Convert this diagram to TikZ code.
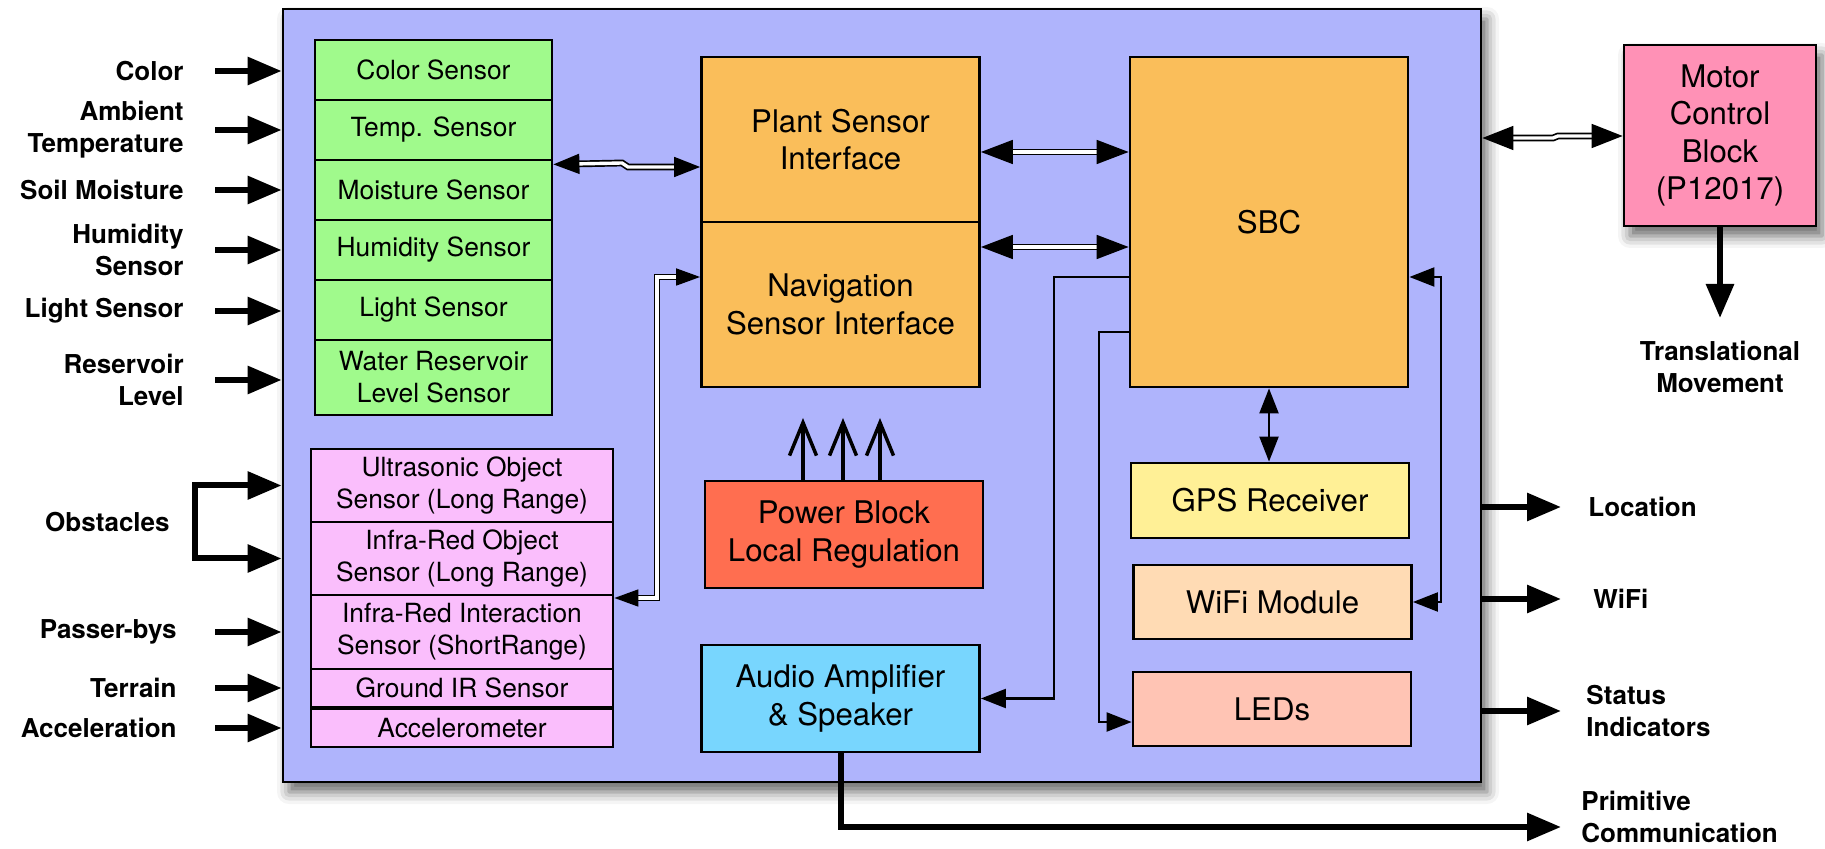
\documentclass[tikz,border=0pt]{standalone}
\usepackage{fontspec}
\setmainfont{TeX Gyre Heros}
\usetikzlibrary{arrows.meta,shadows.blur}

\definecolor{boardfill}{RGB}{175,180,252}
\definecolor{envfill}{RGB}{160,250,140}
\definecolor{navfill}{RGB}{250,190,252}
\definecolor{ifacefill}{RGB}{250,190,90}
\definecolor{powerfill}{RGB}{255,110,80}
\definecolor{audiofill}{RGB}{120,214,254}
\definecolor{gpsfill}{RGB}{255,240,150}
\definecolor{wififill}{RGB}{255,219,180}
\definecolor{ledfill}{RGB}{255,196,180}
\definecolor{motorfill}{RGB}{255,145,182}

\begin{document}
\begin{tikzpicture}[x=0.5pt,y=-0.5pt,
    box/.style={draw,line width=1.4pt,align=center,inner sep=1pt},
    sensor/.style={box,font=\fontsize{13.2}{16}\selectfont},
    envbox/.style={sensor,fill=envfill,minimum width=118.5pt,minimum height=30pt},
    navbox/.style={sensor,fill=navfill,minimum width=151pt,minimum height=36.5pt},
    block/.style={box,font=\fontsize{15.6}{18.6}\selectfont,minimum width=139pt},
    shade/.style={blur shadow={shadow xshift=3pt,shadow yshift=-5pt,shadow blur radius=6pt,shadow opacity=60}},
    inlabel/.style={anchor=east,align=right,inner sep=0pt,font=\fontsize{13}{16}\selectfont\bfseries},
    outlabel/.style={anchor=west,align=left,inner sep=0pt,font=\fontsize{13}{16}\selectfont\bfseries},
    bigline/.style={line width=3pt,>={Triangle[length=17pt,width=13.5pt]}},
    thinline/.style={line width=1.1pt,>={Triangle[length=12.5pt,width=9.5pt]}},
    dblline/.style={double=white,line width=0.85pt,double distance=1.7pt,>={Triangle[length=16pt,width=12pt]}},
    pwrline/.style={line width=1.75pt,>={Straight Barb[length=16.5pt,width=13.5pt]}}]
  \useasboundingbox (0,0) rectangle (1825,849);

  % board
  \node[box,fill=boardfill,minimum width=599pt,minimum height=386.5pt,shade] (board) at (882,395.5) {};

  % plant sensors
  \node[envbox] (scolor) at (433.5,70)  {Color Sensor};
  \node[envbox] (stemp)  at (433.5,130) {Temp. Sensor};
  \node[envbox] (smoist) at (433.5,190) {Moisture Sensor};
  \node[envbox] (shumid) at (433.5,250) {Humidity Sensor};
  \node[envbox] (slight) at (433.5,310) {Light Sensor};
  \node[envbox,minimum height=37.5pt] (swater) at (433.5,377.5) {Water Reservoir\\Level Sensor};

  % navigation sensors
  \node[navbox] (ultra)  at (462,485.5) {Ultrasonic Object\\Sensor (Long Range)};
  \node[navbox] (irobj)  at (462,558.5) {Infra-Red Object\\Sensor (Long Range)};
  \node[navbox,minimum height=37pt] (irint) at (462,632) {Infra-Red Interaction\\Sensor (ShortRange)};
  \node[navbox,minimum height=19pt] (ground) at (462,688) {Ground IR Sensor};
  \node[navbox,minimum height=19pt] (accel)  at (462,728) {Accelerometer};

  % blocks
  \node[block,fill=ifacefill,minimum height=82.5pt] (plant) at (840.5,139.5) {Plant Sensor\\Interface};
  \node[block,fill=ifacefill,minimum height=82.5pt] (nav)   at (840.5,304.5) {Navigation\\Sensor Interface};
  \node[block,fill=ifacefill,minimum height=165pt]  (sbc)   at (1269,222)    {SBC};
  \node[block,fill=powerfill,minimum height=53.5pt] (power) at (844,534.5)   {Power Block\\Local Regulation};
  \node[block,fill=audiofill,minimum height=53.5pt] (audio) at (840.5,698.5) {Audio Amplifier\\\& Speaker};
  \node[block,fill=gpsfill,minimum height=37.5pt]   (gps)   at (1270,500.5)  {GPS Receiver};
  \node[block,fill=wififill,minimum height=37pt]    (wifi)  at (1272.5,602)  {WiFi Module};
  \node[block,fill=ledfill,minimum height=37pt]     (leds)  at (1272,709)    {LEDs};
  \node[block,fill=motorfill,minimum width=96pt,minimum height=90.5pt,shade] (motor) at (1720,135.5) {Motor\\Control\\Block\\(P12017)};

  % inputs
  \node[inlabel] (lcolor)   at (184,71)    {Color};
  \node[inlabel] (lambient) at (184,130)   {Ambient\\Temperature};
  \node[inlabel] (lsoil)    at (184,190)   {Soil Moisture};
  \node[inlabel] (lhumid)   at (184,250)   {Humidity\\Sensor};
  \node[inlabel] (llight)   at (184,311)   {Light Sensor};
  \node[inlabel] (lreserv)  at (184,380)   {Reservoir\\Level};
  \node[inlabel] (lobst)    at (170,522)   {Obstacles};
  \node[inlabel] (lpass)    at (177,632)   {Passer-bys};
  \node[inlabel] (lterrain) at (177,688)   {Terrain};
  \node[inlabel] (laccel)   at (177,728)   {Acceleration};
  \coordinate (obst) at ([xshift=12.5pt]lobst.east);

  % outputs
  \node[outlabel] (lloc)    at (1588,507) {Location};
  \node[outlabel] (lwifi)   at (1593,599) {WiFi};
  \node[outlabel] (lstatus) at (1586,711) {Status\\Indicators};
  \node[outlabel] (lprim)   at (1581,817) {Primitive\\Communication};
  \node[inlabel,anchor=center,align=center] (ltrans) at (1720,367) {Translational\\Movement};
  \coordinate (primend) at (1561,827);

  \draw[bigline,->] ([xshift=15.5pt]lcolor.east)   -- (board.west |- lcolor);
  \draw[bigline,->] ([xshift=15.5pt]lambient.east) -- (board.west |- stemp);
  \draw[bigline,->] ([xshift=15.5pt]lsoil.east)    -- (board.west |- smoist);
  \draw[bigline,->] ([xshift=15.5pt]lhumid.east)   -- (board.west |- shumid);
  \draw[bigline,->] ([xshift=15.5pt]llight.east)   -- (board.west |- llight);
  \draw[bigline,->] ([xshift=15.5pt]lreserv.east)  -- (board.west |- lreserv);
  \draw[bigline,->] (obst) |- (board.west |- ultra);
  \draw[bigline,->] (obst) |- (board.west |- irobj);
  \draw[bigline,->] ([xshift=19pt]lpass.east)      -- (board.west |- irint);
  \draw[bigline,->] ([xshift=19pt]lterrain.east)   -- (board.west |- ground);
  \draw[bigline,->] ([xshift=19pt]laccel.east)     -- (board.west |- accel);

  \draw[bigline,->] (board.east |- lloc)    -- (1561,0 |- lloc);
  \draw[bigline,->] (board.east |- lwifi)   -- (1561,0 |- lwifi);
  \draw[bigline,->] (board.east |- lstatus) -- (1561,0 |- lstatus);
  \draw[bigline,->] (audio.south) |- (primend);
  \draw[bigline,->] (motor.south) -- (motor.south |- 0,318);

  % buses
  \draw[dblline,<->,>={Triangle[length=13pt,width=10pt]}] ([yshift=-1.5pt]stemp.south east) -- (622,163) -- (628,167) -- (plant.west |- 0,167);
  \draw[dblline,<->] (plant.east |- 0,152) -- (sbc.west |- 0,152);
  \draw[dblline,<->] (nav.east |- 0,247) -- (sbc.west |- 0,247);
  \draw[dblline,<->,>={Triangle[length=12pt,width=8.5pt]}] (nav.west |- 0,277) -| (657,598) -- (irint.east |- 0,598);
  \draw[dblline,<->,>={Triangle[length=15.5pt,width=12pt]}] (board.east |- 0,138) -- (1553,138) -- (1558,136) -- (motor.west |- 0,136);

  % signals
  \draw[thinline,<->] (sbc.south) -- (sbc.south |- gps.north);
  \draw[thinline,->] (sbc.west |- 0,277) -- (1054,277) |- (audio.east);
  \draw[thinline,->] (sbc.west |- 0,332) -- (1099,332) |- (leds.west |- 0,722);
  \draw[thinline,<->] (wifi.east) -| (1441,277) -- (sbc.east |- 0,277);

  % power
  \draw[pwrline,->] (power.north -| 803,0) -- (803,418);
  \draw[pwrline,->] (power.north -| 843,0) -- (843,418);
  \draw[pwrline,->] (power.north -| 880,0) -- (880,418);
\end{tikzpicture}
\end{document}
